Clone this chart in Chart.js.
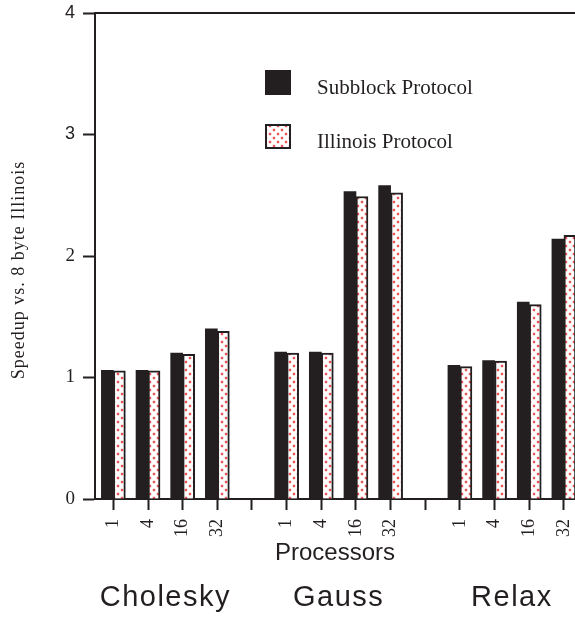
<!DOCTYPE html>
<html>
<head>
<meta charset="utf-8">
<script src="https://cdn.jsdelivr.net/npm/chart.js@4"></script>
<style>
  html, body { margin: 0; padding: 0; background: #fff; overflow: hidden; }
  canvas { display: block; }
</style>
</head>
<body>
<canvas id="chart" width="575" height="618"></canvas>
<script>
// processor counts per bar group ('' marks the empty slot between programs)
const procs = ['1', '4', '16', '32', '', '1', '4', '16', '32', '', '1', '4', '16', '32'];
const programs = ['Cholesky', 'Gauss', 'Relax'];
const subblock = [1.06, 1.06, 1.20, 1.40, null, 1.21, 1.21, 2.53, 2.58, null, 1.10, 1.14, 1.62, 2.14];
const illinois = [1.055, 1.055, 1.19, 1.38, null, 1.20, 1.20, 2.49, 2.52, null, 1.09, 1.135, 1.60, 2.17];
const yTicks = [0, 1, 2, 3, 4];

const ink = '#231f20';
const serif = '"Liberation Serif", "Times New Roman", serif';
const sans = '"Liberation Sans", Arial, sans-serif';

const canvas = document.getElementById('chart');
const ctx = canvas.getContext('2d');

// white fill with red dots for the Illinois bars
function makeDots() {
    const c = document.createElement('canvas');
    c.width = 8;
    c.height = 8;
    const g = c.getContext('2d');
    g.fillStyle = '#fff';
    g.fillRect(0, 0, 8, 8);
    [[2, 2], [6, 6]].forEach(([x, y]) => {
        g.fillStyle = 'rgba(240, 120, 120, 0.45)';
        g.beginPath(); g.arc(x, y, 1.7, 0, Math.PI * 2); g.fill();
        g.fillStyle = '#e3262b';
        g.beginPath(); g.arc(x, y, 0.95, 0, Math.PI * 2); g.fill();
    });
    return ctx.createPattern(c, 'repeat');
}
const dots = makeDots();

const toPoints = arr => arr.map((v, i) => ({ x: i, y: v }));

// group start indices, split on the empty slots
const groupStarts = [0];
procs.forEach((p, i) => { if (p === '') groupStarts.push(i + 1); });

// keep the axes from reserving room for overhanging labels
const noPad = s => { s.paddingTop = s.paddingBottom = s.paddingLeft = s.paddingRight = 0; };

const extras = {
    id: 'extras',
    afterDraw(chart) {
        const c = chart.ctx;
        const xs = chart.scales.x;

        // y axis title
        c.save();
        c.fillStyle = ink;
        c.translate(19, 270);
        c.rotate(-Math.PI / 2);
        c.font = '18px ' + serif;
        c.letterSpacing = '1px';
        c.textAlign = 'center';
        c.textBaseline = 'middle';
        c.fillText('Speedup vs. 8 byte Illinois', 0, 0);
        c.restore();

        // program names under each group
        c.save();
        c.fillStyle = ink;
        c.font = '29px ' + sans;
        c.letterSpacing = '1.5px';
        c.textAlign = 'center';
        c.textBaseline = 'alphabetic';
        programs.forEach((name, k) => {
            const mid = groupStarts[k] + 1.5;
            c.fillText(name, xs.getPixelForValue(mid), 606);
        });
        c.restore();

        // legend
        c.save();
        chart.data.datasets.forEach((ds, i) => {
            const bx = 265, by = 70 + i * 54;
            c.fillStyle = ds.backgroundColor;
            c.fillRect(bx, by, 26, 25);
            if (ds.borderWidth) {
                c.strokeStyle = ds.borderColor;
                c.lineWidth = ds.borderWidth;
                c.strokeRect(bx + 1, by + 1, 24, 23);
            }
            c.fillStyle = ink;
            c.font = '21px ' + serif;
            c.textAlign = 'left';
            c.textBaseline = 'alphabetic';
            c.fillText(ds.label, 317, by + 23.5);
        });
        c.restore();
    }
};

new Chart(ctx, {
    type: 'bar',
    data: {
        datasets: [{
            label: 'Subblock Protocol',
            data: toPoints(subblock),
            backgroundColor: ink,
            borderColor: ink,
            borderWidth: 0,
            barThickness: 12
        }, {
            label: 'Illinois Protocol',
            data: toPoints(illinois),
            backgroundColor: dots,
            borderColor: ink,
            borderWidth: 2,
            barThickness: 12
        }]
    },
    options: {
        responsive: false,
        animation: false,
        layout: { padding: 0 },
        plugins: {
            legend: { display: false },
            tooltip: { enabled: false }
        },
        scales: {
            x: {
                type: 'linear',
                position: 'bottom',
                offset: false,
                min: -0.53,
                max: 13.32,
                afterBuildTicks: s => { s.ticks = procs.map((_, i) => ({ value: i })); },
                afterFit: s => { s.height = 119; noPad(s); },
                grid: { offset: false, drawOnChartArea: false, drawTicks: true, tickLength: 11, tickWidth: 2, tickColor: ink },
                border: { color: ink, width: 2 },
                ticks: {
                    autoSkip: false,
                    minRotation: 90,
                    maxRotation: 90,
                    padding: 9,
                    color: ink,
                    font: { family: serif, size: 18 },
                    callback: (v, i) => procs[i]
                },
                title: {
                    display: true,
                    text: 'Processors',
                    color: ink,
                    font: { family: sans, size: 24 },
                    padding: { top: 0, bottom: 50 }
                }
            },
            top: {
                type: 'linear',
                position: 'top',
                offset: false,
                min: -0.53,
                max: 13.32,
                afterFit: s => { s.height = 13; noPad(s); },
                ticks: { display: false },
                grid: { drawOnChartArea: false, drawTicks: false },
                border: { display: true, color: ink, width: 2 }
            },
            y: {
                min: 0,
                max: 4,
                afterBuildTicks: s => { s.ticks = yTicks.map(v => ({ value: v })); },
                afterFit: s => { s.width = 95; noPad(s); },
                grid: { drawOnChartArea: false, drawTicks: true, tickLength: 12, tickWidth: 2, tickColor: ink },
                border: { color: ink, width: 2 },
                ticks: {
                    padding: 8,
                    color: ink,
                    font: c => c.tick && c.tick.value >= 3
                        ? { family: sans, size: 18 }
                        : { family: serif, size: 19 }
                }
            }
        }
    },
    plugins: [extras]
});
</script>
</body>
</html>
